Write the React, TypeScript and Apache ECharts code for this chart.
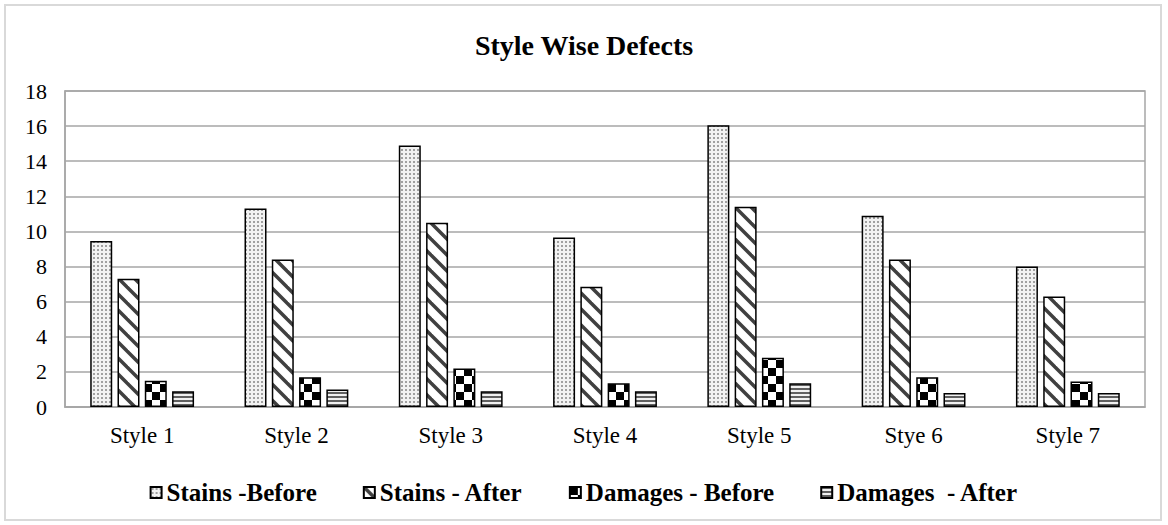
import React, { useEffect, useRef } from "react";
import * as echarts from "echarts";

const categories = ["Style 1", "Style 2", "Style 3", "Style 4", "Style 5", "Stye 6", "Style 7"];
const seriesNames = ["Stains -Before", "Stains - After", "Damages - Before", "Damages  - After"];
const stainsBefore = [9.45, 11.3, 14.9, 9.65, 16.05, 10.9, 8.0];
const stainsAfter = [7.3, 8.4, 10.5, 6.85, 11.4, 8.4, 6.3];
const damagesBefore = [1.5, 1.7, 2.2, 1.35, 2.8, 1.7, 1.45];
const damagesAfter = [0.9, 1.0, 0.9, 0.9, 1.35, 0.8, 0.8];
const yTicks = { min: 0, max: 18, interval: 2 };

function makePattern(kind: string): any {
  const c = document.createElement("canvas");
  const ctx = c.getContext("2d")!;
  if (kind === "dots") {
    c.width = 4; c.height = 4;
    ctx.fillStyle = "#f2f2f2"; ctx.fillRect(0, 0, 4, 4);
    ctx.fillStyle = "#a0a0a0"; ctx.fillRect(1, 1, 2, 2);
  } else if (kind === "diag") {
    const s = 16;
    c.width = s; c.height = s;
    ctx.fillStyle = "#ffffff"; ctx.fillRect(0, 0, s, s);
    ctx.strokeStyle = "#404040"; ctx.lineWidth = 3.5;
    for (const off of [-s, 0, s]) {
      ctx.beginPath();
      ctx.moveTo(off - 2, -2);
      ctx.lineTo(off + s + 2, s + 2);
      ctx.stroke();
    }
  } else if (kind === "check") {
    c.width = 16; c.height = 16;
    ctx.fillStyle = "#ffffff"; ctx.fillRect(0, 0, 16, 16);
    ctx.fillStyle = "#000000";
    ctx.fillRect(0, 0, 8, 8); ctx.fillRect(8, 8, 8, 8);
  } else {
    c.width = 4; c.height = 4;
    ctx.fillStyle = "#f0f0f0"; ctx.fillRect(0, 0, 4, 4);
    ctx.fillStyle = "#606060"; ctx.fillRect(0, 0, 4, 2);
  }
  return { image: c, repeat: "repeat" };
}

export default function App() {
  const ref = useRef<HTMLDivElement>(null);
  useEffect(() => {
    document.body.style.margin = "0";
    const chart = echarts.init(ref.current!, null, { renderer: "svg" });
    const kinds = ["dots", "diag", "check", "hstripe"];
    const datas = [stainsBefore, stainsAfter, damagesBefore, damagesAfter];
    const font = "Liberation Serif";
    chart.setOption({
      animation: false,
      backgroundColor: "#ffffff",
      title: {
        text: "Style Wise Defects",
        left: "center",
        top: 26,
        textStyle: { fontFamily: font, fontSize: 28, fontWeight: "bold", color: "#000" },
      },
      legend: {
        data: seriesNames,
        left: "center",
        top: 475,
        itemWidth: 11,
        itemHeight: 11,
        itemGap: 46,
        icon: "rect",
        textStyle: { fontFamily: font, fontSize: 25, fontWeight: "bold", color: "#000" },
      },
      grid: {
        left: 65, right: 23, top: 91, bottom: 118,
        show: true, borderColor: "#a6a6a6", borderWidth: 1.5,
      },
      xAxis: {
        type: "category",
        data: categories,
        axisLine: { lineStyle: { color: "#a6a6a6", width: 1.5 } },
        axisTick: { show: false },
        axisLabel: { fontFamily: font, fontSize: 23, color: "#000", margin: 17 },
      },
      yAxis: {
        type: "value",
        min: yTicks.min, max: yTicks.max, interval: yTicks.interval,
        axisLine: { show: true, lineStyle: { color: "#a6a6a6", width: 1.5 } },
        axisTick: { show: false },
        axisLabel: { fontFamily: font, fontSize: 22, color: "#000", margin: 18 },
        splitLine: { lineStyle: { color: "#a6a6a6", width: 1.5 } },
      },
      graphic: [
        {
          type: "rect",
          shape: { x: 5, y: 5, width: 1156, height: 515 },
          style: { fill: "none", stroke: "#d9d9d9", lineWidth: 2 },
          silent: true,
        },
      ],
      series: seriesNames.map((name, i) => ({
        name,
        type: "bar",
        data: datas[i],
        barWidth: 22,
        barGap: "24%",
        itemStyle: { color: makePattern(kinds[i]), borderColor: "#000", borderWidth: 1.5 },
      })),
    });
    return () => chart.dispose();
  }, []);
  return <div ref={ref} style={{ width: 1168, height: 525 }} />;
}
